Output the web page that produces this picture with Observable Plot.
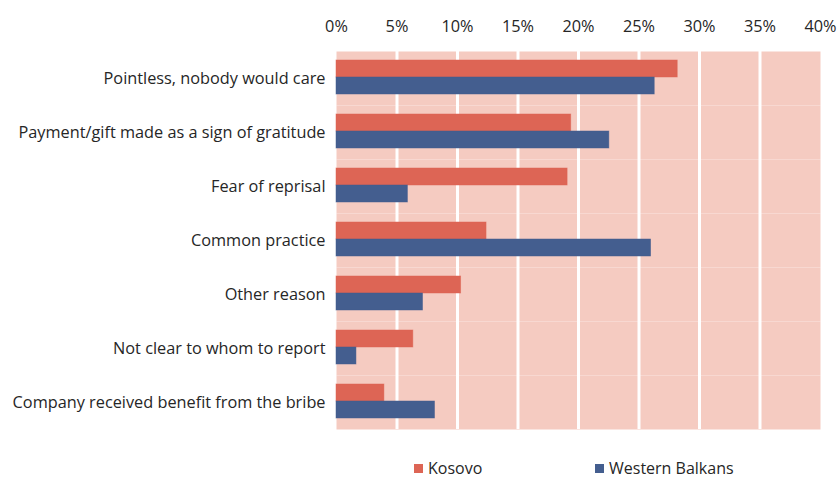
<!DOCTYPE html>
<html>
<head>
<meta charset="utf-8">
<script src="https://cdn.jsdelivr.net/npm/d3@7"></script>
<script src="https://cdn.jsdelivr.net/npm/@observablehq/plot@0.6"></script>
<style>
  body { margin: 0; background: white; font-family: "Open Sans", sans-serif; overflow: hidden; }
  #chart { width: 837px; }
  #chart svg { display: block; }
  .legend { position: relative; height: 39px; font-size: 16px; color: #262626; }
  .legend .item { position: absolute; top: 21px; display: flex; align-items: center; line-height: 14px; }
  .legend .sw { width: 9px; height: 9px; margin-right: 5px; display: inline-block; }
</style>
</head>
<body>
<div id="chart"></div>
<script>
const categories = [
  "Pointless, nobody would care",
  "Payment/gift made as a sign of gratitude",
  "Fear of reprisal",
  "Common practice",
  "Other reason",
  "Not clear to whom to report",
  "Company received benefit from the bribe"
];
const series = ["Kosovo", "Western Balkans"];
const kosovo = [28.2, 19.4, 19.1, 12.4, 10.3, 6.35, 3.96];
const westernBalkans = [26.3, 22.55, 5.9, 26.0, 7.15, 1.65, 8.14];
const tickValues = [0, 5, 10, 15, 20, 25, 30, 35, 40];
const gridValues = [5, 10, 15, 20, 25, 30, 35];
const colors = ["#dd6555", "#445e8f"];

const data = categories.flatMap((c, i) => [
  {category: c, series: series[0], value: kosovo[i]},
  {category: c, series: series[1], value: westernBalkans[i]}
]);

const chart = Plot.plot({
  width: 837,
  height: 440,
  marginTop: 48,
  marginBottom: 8,
  marginLeft: 336,
  marginRight: 17,
  style: {fontFamily: "'Open Sans', sans-serif", fontSize: "16.3px", color: "#262626", background: "white"},
  x: {domain: [0, 40], ticks: tickValues, tickFormat: d => d + "%", axis: "top", tickSize: 0, tickPadding: 20, label: null},
  y: {domain: series, axis: null, paddingInner: 0, paddingOuter: 0.52, align: 0.45},
  fy: {domain: categories, padding: 0, axis: "left", tickSize: 0, tickPadding: 11, label: null},
  color: {domain: series, range: colors},
  marks: [
    Plot.frame({fill: "#f5cbc1", stroke: null}),
    Plot.ruleX(gridValues, {stroke: "white", strokeWidth: 3}),
    Plot.barX(data, {y: "series", fy: "category", x: "value", fill: "series", stroke: "series", strokeOpacity: 0.6, strokeWidth: 0.8})
  ]
});
document.getElementById("chart").appendChild(chart);

const legend = document.createElement("div");
legend.className = "legend";
const lefts = [414, 595];
series.forEach((s, i) => {
  const it = document.createElement("div");
  it.className = "item";
  it.style.left = lefts[i] + "px";
  const sw = document.createElement("span");
  sw.className = "sw";
  sw.style.background = colors[i];
  it.appendChild(sw);
  it.appendChild(document.createTextNode(s));
  legend.appendChild(it);
});
document.getElementById("chart").appendChild(legend);
</script>
</body>
</html>
